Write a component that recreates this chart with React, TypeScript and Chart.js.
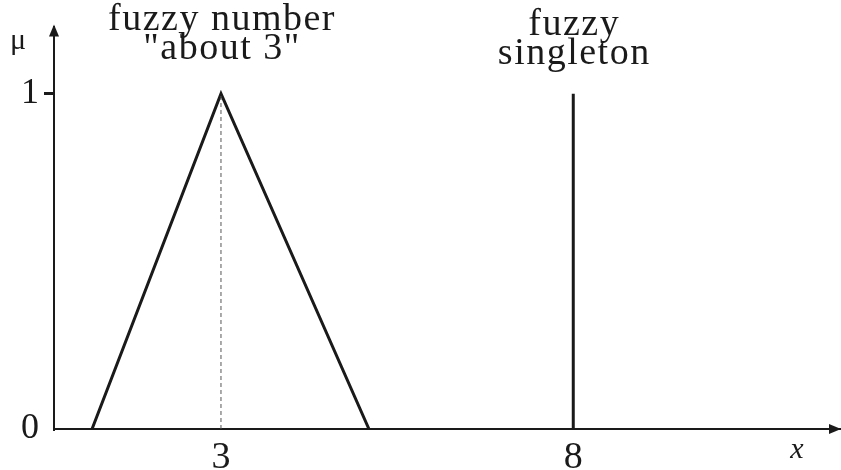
import React, { useEffect, useRef } from "react";
import { Chart, registerables } from "chart.js";

Chart.register(...registerables);

// Data
const triangleX = [1.17, 3, 5.1];
const triangleY = [0, 1, 0];
const singletonX = [8, 8];
const singletonY = [0, 1];
const peakGuideX = [3, 3];
const peakGuideY = [0, 1];
const xTickValues = [3, 8];
const yTickValues = [0, 1];
const X_MIN = 0.63;
const X_MAX = 11.8;
const Y_MAX = 1.2;
const annotations = [
  { x: 3, lines: ["fuzzy number", "\"about 3\""], baselines: [30, 59] },
  { x: 8, lines: ["fuzzy", "singleton"], baselines: [35, 64] },
];
const xAxisLabel = "x";
const yAxisLabel = "μ";

const SERIF = '"Liberation Serif", "DejaVu Serif", serif';

const overlayPlugin = {
  id: "overlay",
  afterDraw(chart: any) {
    const { ctx, chartArea, scales } = chart;
    const xs = scales.x;
    ctx.save();
    ctx.fillStyle = "#1a1a1a";
    // arrows
    ctx.beginPath();
    ctx.moveTo(chartArea.left, chartArea.top - 2);
    ctx.lineTo(chartArea.left - 5, chartArea.top + 10);
    ctx.lineTo(chartArea.left + 5, chartArea.top + 10);
    ctx.closePath();
    ctx.fill();
    ctx.beginPath();
    ctx.moveTo(chartArea.right, chartArea.bottom);
    ctx.lineTo(chartArea.right - 12, chartArea.bottom - 5);
    ctx.lineTo(chartArea.right - 12, chartArea.bottom + 5);
    ctx.closePath();
    ctx.fill();

    // annotations
    ctx.font = `38px ${SERIF}`;
    ctx.textAlign = "center";
    ctx.textBaseline = "alphabetic";
    try { (ctx as any).letterSpacing = "1.5px"; } catch (e) {}
    for (const a of annotations) {
      const px = xs.getPixelForValue(a.x);
      a.lines.forEach((t, i) => ctx.fillText(t, px + 1, a.baselines[i]));
    }
    try { (ctx as any).letterSpacing = "0px"; } catch (e) {}

    // axis names
    ctx.font = `italic 30px ${SERIF}`;
    ctx.fillText(xAxisLabel, 797, 458);
    ctx.font = `30px ${SERIF}`;
    ctx.fillText(yAxisLabel, 18, 49);
    ctx.restore();
  },
};

export default function App() {
  const ref = useRef<HTMLCanvasElement | null>(null);
  useEffect(() => {
    document.body.style.margin = "0";
    let chart: any = null;
    let cancelled = false;
    const build = () => {
      const canvas = ref.current;
      if (!canvas || cancelled) return;
      const toPts = (xs: number[], ys: number[]) => xs.map((x, i) => ({ x, y: ys[i] }));
      chart = new Chart(canvas, {
        type: "line",
        data: {
          datasets: [
            {
              data: toPts(peakGuideX, peakGuideY),
              borderColor: "#555",
              borderWidth: 1,
              borderDash: [4, 3],
              pointRadius: 0,
            },
            {
              data: toPts(triangleX, triangleY),
              borderColor: "#1a1a1a",
              borderWidth: 3,
              pointRadius: 0,
            },
            {
              data: toPts(singletonX, singletonY),
              borderColor: "#1a1a1a",
              borderWidth: 3,
              pointRadius: 0,
            },
          ],
        },
        options: {
          responsive: false,
          animation: false,
          layout: { padding: { top: 25, left: 0, right: 0, bottom: 0 } },
          plugins: { legend: { display: false }, tooltip: { enabled: false } },
          scales: {
            x: {
              type: "linear",
              min: X_MIN,
              max: X_MAX,
              afterBuildTicks: (s: any) => {
                s.ticks = xTickValues.map((v) => ({ value: v }));
              },
              afterFit: (s: any) => {
                s.height = 41;
              },
              grid: { display: false, drawTicks: false },
              border: { display: true, color: "#1a1a1a", width: 2 },
              ticks: {
                color: "#1a1a1a",
                font: { family: SERIF, size: 38 },
                padding: 6,
                maxRotation: 0,
                autoSkip: false,
              },
            },
            y: {
              type: "linear",
              min: 0,
              max: Y_MAX,
              afterBuildTicks: (s: any) => {
                s.ticks = yTickValues.map((v) => ({ value: v }));
              },
              afterFit: (s: any) => {
                s.width = 54;
              },
              grid: {
                display: true,
                drawOnChartArea: false,
                drawTicks: true,
                tickLength: 10,
                lineWidth: 3,
                tickColor: (c: any) => (c.tick && c.tick.value === 1 ? "#1a1a1a" : "rgba(0,0,0,0)"),
              },
              border: { display: true, color: "#1a1a1a", width: 2 },
              ticks: {
                color: "#1a1a1a",
                font: { family: SERIF, size: 36 },
                padding: 5,
                autoSkip: false,
              },
            },
          },
        },
        plugins: [overlayPlugin],
      });
    };
    const fontsToLoad = [
      '36px "Liberation Serif"',
      'italic 30px "Liberation Serif"',
    ];
    const fs: any = (document as any).fonts;
    if (fs && fs.load) {
      Promise.all(fontsToLoad.map((f) => fs.load(f)))
        .catch(() => null)
        .then(() => build());
    } else {
      build();
    }
    return () => {
      cancelled = true;
      if (chart) chart.destroy();
    };
  }, []);
  return (
    <div style={{ width: 841, height: 470 }}>
      <canvas ref={ref} width={841} height={470} style={{ display: "block" }} />
    </div>
  );
}
